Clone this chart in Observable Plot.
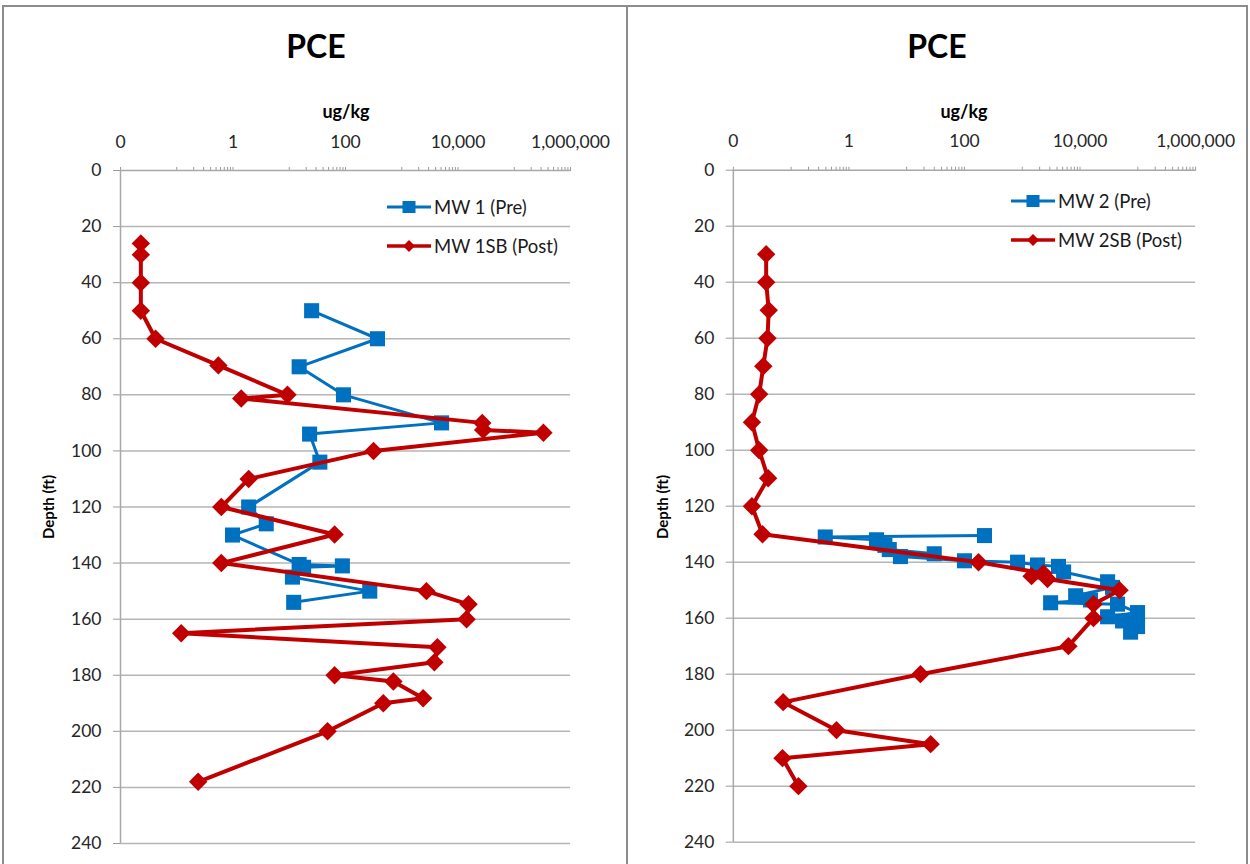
<!DOCTYPE html>
<html>
<head>
<meta charset="utf-8">
<script src="https://cdn.jsdelivr.net/npm/d3@7"></script>
<script src="https://cdn.jsdelivr.net/npm/@observablehq/plot@0.6"></script>
<style>
  body { margin: 0; background: #fff; font-family: Lato, "Open Sans", sans-serif; }
  #wrap { position: relative; width: 1250px; height: 864px; overflow: hidden; background: #fff; }
  .box { position: absolute; top: 5px; height: 900px; box-sizing: border-box; border: 2px solid #8c8c8c; }
  .chart { position: absolute; top: 0; }
  .title { position: absolute; top: 26px; font-weight: bold; font-size: 32px; color: #000; transform: translateX(-50%); white-space: nowrap; }
  .unit { position: absolute; top: 100px; font-weight: bold; font-size: 18px; color: #000; transform: translateX(-50%); }
  .ylab { position: absolute; font-weight: bold; font-size: 15px; color: #000; transform: translate(-50%, -50%) rotate(-90deg); white-space: nowrap; }
  .legend { position: absolute; font-size: 18.5px; color: #1a1a1a; }
  .legend .row { display: flex; align-items: center; height: 39px; }
  .legend svg { margin-right: 2px; }
</style>
</head>
<body>
<div id="wrap">
  <div class="box" style="left:2px; width:626px;"></div>
  <div class="box" style="left:626px; width:622px; border-left:none;"></div>
  <div id="c1" class="chart" style="left:0px;"></div>
  <div id="c2" class="chart" style="left:626px;"></div>
  <div class="title" style="left:316px;">PCE</div>
  <div class="title" style="left:937px;">PCE</div>
  <div class="unit" style="left:346px;">ug/kg</div>
  <div class="unit" style="left:964px;">ug/kg</div>
  <div class="ylab" style="left:48px; top:507px;">Depth (ft)</div>
  <div class="ylab" style="left:662px; top:507px;">Depth (ft)</div>
  <div id="leg1" class="legend" style="left:386px; top:187px;"></div>
  <div id="leg2" class="legend" style="left:1010px; top:181px;"></div>
</div>
<script>
// ---- axis ticks ----
const xTicks = [0.01, 1, 100, 10000, 1000000];
const yTicks = [0, 20, 40, 60, 80, 100, 120, 140, 160, 180, 200, 220, 240];
const minorMult = [1, 2, 3, 4, 5, 6, 7, 8, 9];
const minorDecades = [0.1, 10, 1000, 100000];

// ---- MW 1 (Pre) ----
const mw1Depth = [50, 60, 70, 80, 90, 94, 104, 120, 126, 130, 140.5, 141, 141.5, 145, 150, 154];
const mw1Value = [25, 370, 15, 92, 5100, 23, 35, 1.9, 3.9, 0.98, 15, 88, 18, 11.4, 270, 12];

// ---- MW 1SB (Post) ----
const mw1sbDepth = [26, 30, 40, 50, 60, 69.5, 80, 81.3, 90, 92.5, 93.5, 100, 110, 120, 129.8, 140, 150, 154.7, 160, 165, 170, 175.4, 180, 182.2, 188.2, 190, 200, 218];
const mw1sbValue = [0.023, 0.023, 0.023, 0.023, 0.042, 0.55, 9.3, 1.4, 27000, 28000, 330000, 315, 1.9, 0.62, 64, 0.62, 2750, 15400, 14200, 0.12, 4300, 3800, 64, 710, 2400, 470, 48, 0.24];

// ---- MW 2 (Pre) ----
const mw2Depth = [130.5, 131, 132, 134, 135.5, 137, 138, 139.5, 140, 141, 141.5, 143.5, 147, 149, 152, 153.5, 154.5, 155, 158, 159.5, 161, 163, 165];
const mw2Value = [222, 0.39, 3.0, 4.2, 5.0, 30, 7.8, 100, 830, 1840, 4240, 5200, 30000, 36500, 8400, 15200, 3100, 44600, 99000, 30000, 54500, 99000, 75000];

// ---- MW 2SB (Post) ----
const mw2sbDepth = [30, 40, 50, 60, 70, 80, 90, 100, 110, 120, 130, 140, 144, 145, 146, 150, 155, 160, 170, 180, 190, 200, 205, 210, 220];
const mw2sbValue = [0.037, 0.037, 0.041, 0.039, 0.033, 0.028, 0.021, 0.028, 0.040, 0.021, 0.032, 175, 2330, 1450, 2740, 48300, 17100, 17100, 6300, 17.3, 0.073, 0.61, 26, 0.071, 0.134];

const seriesNames = [["MW 1 (Pre)", "MW 1SB (Post)"], ["MW 2 (Pre)", "MW 2SB (Post)"]];
const blue = "#0070C0", red = "#C00000";

const toRows = (ds, vs) => ds.map((d, i) => ({d, v: vs[i]}));
const minorTicks = minorDecades.flatMap(dec => minorMult.map(m => m * dec));
const fmt = v => v < 1 ? "0" : d3.format(",")(v);

function panel(pre, post, ml, mr) {
  return Plot.plot({
    width: 625,
    height: 864,
    marginTop: 170,
    marginBottom: 21,
    marginLeft: ml,
    marginRight: mr,
    style: {fontFamily: "Lato, 'Open Sans', sans-serif", fontSize: "17.5px", color: "#262626", background: "transparent", overflow: "visible"},
    x: {type: "log", domain: [0.01, 1000000]},
    y: {domain: [0, 240], reverse: true},
    marks: [
      Plot.ruleY(yTicks.filter(t => t > 0), {stroke: "#b5b5b5", strokeWidth: 1.5}),
      Plot.axisX(minorTicks, {anchor: "top", tickSize: 4, tickFormat: () => "", stroke: "#9a9a9a", label: null}),
      Plot.axisX(xTicks, {anchor: "top", tickSize: 4, tickPadding: 19, tickFormat: fmt, stroke: "#9a9a9a", label: null}),
      Plot.axisY(yTicks, {anchor: "left", tickSize: 7, tickPadding: 12, stroke: "#9a9a9a", label: null}),
      Plot.ruleY([0], {stroke: "#a8a8a8", strokeWidth: 1.5}),
      Plot.ruleX([0.01], {stroke: "#a8a8a8", strokeWidth: 1.5}),
      Plot.line(pre, {x: "v", y: "d", stroke: blue, strokeWidth: 3}),
      Plot.dot(pre, {x: "v", y: "d", symbol: "square", fill: blue, r: 8.5}),
      Plot.line(post, {x: "v", y: "d", stroke: red, strokeWidth: 4}),
      Plot.dot(post, {x: "v", y: "d", symbol: "diamond2", fill: red, r: 8.3})
    ]
  });
}

document.getElementById("c1").append(panel(toRows(mw1Depth, mw1Value), toRows(mw1sbDepth, mw1sbValue), 120, 55));
document.getElementById("c2").append(panel(toRows(mw2Depth, mw2Value), toRows(mw2sbDepth, mw2sbValue), 107, 55));

function legend(el, names) {
  const glyphs = [
    `<svg width="46" height="16"><line x1="1" x2="45" y1="8" y2="8" stroke="${blue}" stroke-width="3"/><rect x="16.5" y="2" width="13" height="12" fill="${blue}"/></svg>`,
    `<svg width="46" height="16"><line x1="1" x2="45" y1="8" y2="8" stroke="${red}" stroke-width="3.5"/><path d="M23 2 L29 8 L23 14 L17 8 Z" fill="${red}"/></svg>`
  ];
  el.innerHTML = names.map((n, i) => `<div class="row">${glyphs[i]}<span>${n}</span></div>`).join("");
}
legend(document.getElementById("leg1"), seriesNames[0]);
legend(document.getElementById("leg2"), seriesNames[1]);
</script>
</body>
</html>
